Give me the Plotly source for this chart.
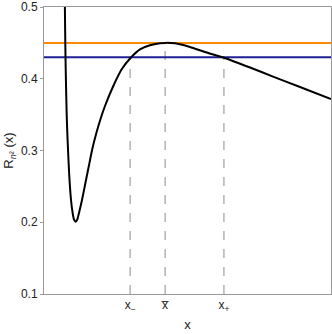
import plotly.graph_objects as go

# curve R_{n^2}(x)
curve_x = [0.725, 0.728, 0.742, 0.749, 0.763, 0.791, 0.822, 0.875, 0.941, 1.000, 1.045, 1.105, 1.160, 1.202,
           1.244, 1.324, 1.429, 1.557, 1.683, 1.822, 1.969, 2.125, 2.415, 2.707, 3.021, 3.345, 3.693, 4.042,
           4.22, 4.564, 5.087, 5.610, 6.272, 7.178, 7.979, 8.920, 10.0]
curve_y = [0.5167, 0.500, 0.4498, 0.4303, 0.3997, 0.3495, 0.3146, 0.2686, 0.2310, 0.2124, 0.2038, 0.2008, 0.2038,
           0.2101, 0.2171, 0.2310, 0.2519, 0.2774, 0.3021, 0.3240, 0.3439, 0.3620, 0.3899, 0.4132, 0.4293,
           0.4410, 0.4466, 0.4494, 0.4500, 0.4494, 0.4443, 0.4373, 0.4293, 0.4157, 0.4030, 0.3885, 0.3718]

level_top = 0.45
level_low = 0.43
x_marks = [3.00, 4.22, 6.27]
x_mark_vals = [0.43, 0.45, 0.43]
x_tick_text = ["x<sub>\u2212</sub>", "x\u0305", "x<sub>+</sub>"]
y_ticks = [0.1, 0.2, 0.3, 0.4, 0.5]

fig = go.Figure()
for xm, ym in zip(x_marks, x_mark_vals):
    fig.add_trace(go.Scatter(x=[xm, xm], y=[0.1, ym], mode="lines",
                             line=dict(color="#8c8c8c", width=1, dash="dash"), showlegend=False))
fig.add_trace(go.Scatter(x=[0, 10], y=[level_top, level_top], mode="lines",
                         line=dict(color="#ff8c00", width=2), showlegend=False))
fig.add_trace(go.Scatter(x=[0, 10], y=[level_low, level_low], mode="lines",
                         line=dict(color="#1f1f96", width=2), showlegend=False))
fig.add_trace(go.Scatter(x=curve_x, y=curve_y, mode="lines",
                         line=dict(color="black", width=2, shape="spline", smoothing=0.6), showlegend=False))

fig.update_layout(
    width=332, height=334,
    margin=dict(l=44, r=1, t=7, b=40),
    plot_bgcolor="white", paper_bgcolor="white",
    font=dict(family="Liberation Sans, Arial, sans-serif", size=12, color="#222222"),
)
fig.update_xaxes(range=[0, 10], showgrid=False, zeroline=False, automargin=False,
                 showline=True, linecolor="#999999", linewidth=1, mirror=True,
                 tickvals=x_marks, ticktext=x_tick_text, ticks="",
                 title=dict(text="x", standoff=6, font=dict(size=13)))
fig.update_yaxes(range=[0.1, 0.5], showgrid=False, zeroline=False, automargin=False,
                 showline=True, linecolor="#999999", linewidth=1, mirror=True,
                 tickvals=y_ticks, ticktext=["0.1", "0.2", "0.3", "0.4", "0.5"],
                 ticks="outside", ticklen=3, tickcolor="#999999",
                 title=dict(text="R<sub><i>n</i>²</sub> (x)", standoff=4, font=dict(size=13)))

fig.write_html("out.html", config={"responsive": False, "displayModeBar": False},
               post_script="document.body.style.margin='0';document.body.style.overflow='hidden';")
